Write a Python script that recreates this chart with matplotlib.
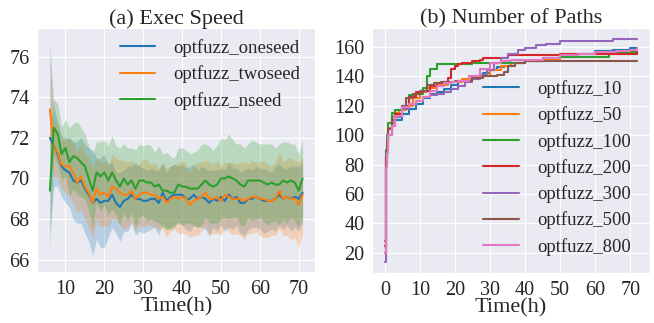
import matplotlib
matplotlib.use("Agg")
import matplotlib.pyplot as plt
import seaborn as sns
import numpy as np

sns.set_style("darkgrid")
plt.rcParams["font.family"] = ["Liberation Serif", "DejaVu Serif"]

# (a) exec speed, hours 6..71
hours = list(range(6, 72))

oneseed = [72.0, 71.6, 71.2, 70.6, 70.4, 70.3, 69.9, 69.8, 69.9, 69.5, 69.2, 68.8, 69.0, 68.8, 68.9, 68.9,
           69.2, 68.8, 68.6, 68.9, 69.0, 69.2, 69.0, 69.0, 68.9, 68.9, 69.0, 69.0, 68.8, 69.3, 68.9, 69.1,
           69.2, 69.2, 69.2, 69.0, 69.0, 69.2, 69.0, 69.1, 69.0, 68.8, 69.0, 68.9, 69.1, 68.9, 69.2, 69.0,
           69.1, 68.8, 68.8, 69.0, 69.0, 69.1, 69.0, 68.9, 68.9, 68.9, 69.0, 69.2, 69.0, 69.1, 69.0, 69.1,
           69.0, 69.3]
twoseed = [73.4, 71.5, 71.3, 70.7, 70.6, 70.6, 70.3, 69.8, 70.1, 69.6, 69.3, 68.8, 69.5, 69.2, 69.3, 69.1,
           69.6, 69.5, 69.3, 69.2, 69.2, 69.4, 69.0, 69.2, 69.3, 69.3, 69.2, 69.2, 69.0, 69.1, 68.8, 69.0,
           69.1, 69.0, 69.1, 69.0, 68.7, 68.9, 69.0, 69.1, 69.3, 69.0, 69.0, 69.1, 68.9, 69.2, 69.1, 69.0,
           69.0, 69.0, 68.9, 69.0, 69.1, 69.1, 69.0, 69.0, 68.9, 68.9, 69.0, 69.4, 69.0, 69.1, 69.0, 69.0,
           68.7, 69.2]
nseed = [69.4, 72.5, 72.2, 71.2, 71.5, 70.8, 71.1, 71.0, 70.8, 70.6, 70.0, 69.4, 70.3, 70.1, 70.3, 69.9,
         70.3, 69.9, 69.6, 70.0, 69.7, 69.9, 69.5, 69.9, 69.9, 69.8, 69.8, 69.6, 69.7, 69.4, 69.4, 69.3,
         69.3, 69.7, 69.6, 69.6, 69.5, 69.5, 69.5, 69.7, 69.9, 69.7, 69.6, 69.7, 70.0, 70.0, 70.1, 70.0,
         69.9, 69.7, 69.6, 69.9, 69.9, 69.9, 69.9, 69.8, 69.7, 69.8, 69.7, 69.7, 69.9, 69.8, 69.9, 69.8,
         69.4, 70.0]

# spread of the shaded bands
oneseed_sd = [4.6, 2.0, 1.6, 1.5, 1.6, 1.7, 1.9, 2.0, 2.1, 2.2, 2.3, 2.6, 2.0, 2.2, 2.3, 1.8,
              1.6, 1.5, 1.7, 1.5, 1.6, 1.4, 1.8, 1.6, 1.6, 1.5, 1.5, 1.4, 1.6, 1.5, 1.4, 1.5,
              1.5, 1.4, 1.5, 1.5, 1.6, 1.5, 1.4, 1.5, 1.5, 1.6, 1.4, 1.5, 1.4, 1.5, 1.6, 1.5,
              1.4, 1.5, 1.6, 1.5, 1.4, 1.5, 1.5, 1.6, 1.5, 1.4, 1.6, 1.5, 1.5, 1.4, 1.6, 1.5,
              1.6, 1.5]
twoseed_sd = [2.6, 1.4, 1.3, 1.2, 1.3, 1.4, 1.5, 1.5, 1.6, 1.6, 1.7, 1.7, 1.5, 1.6, 1.6, 1.5,
              1.6, 1.5, 1.6, 1.7, 1.6, 1.5, 1.6, 1.5, 1.7, 1.6, 1.5, 1.6, 1.5, 1.6, 1.7, 1.6,
              1.6, 1.7, 1.8, 1.7, 1.6, 1.7, 1.8, 1.7, 1.6, 1.8, 1.7, 1.8, 1.7, 1.6, 1.7, 1.8,
              1.7, 1.8, 1.9, 1.7, 1.8, 1.7, 1.8, 1.9, 1.8, 1.7, 1.8, 1.9, 1.8, 1.9, 2.0, 1.9,
              2.1, 1.9]
nseed_sd = [3.0, 1.4, 1.5, 1.3, 1.4, 1.7, 1.6, 1.8, 1.7, 1.6, 1.6, 1.8, 1.5, 1.7, 1.6, 1.7,
            1.8, 1.7, 1.9, 1.7, 1.8, 1.6, 1.9, 1.8, 1.7, 1.9, 1.8, 1.7, 1.9, 1.8, 1.9, 1.8,
            1.7, 1.8, 1.9, 1.8, 1.7, 1.8, 1.9, 2.0, 1.8, 1.9, 1.8, 1.9, 2.0, 1.9, 2.1, 1.9,
            1.8, 2.0, 1.9, 1.8, 2.0, 1.9, 1.8, 1.9, 2.0, 1.9, 1.8, 2.0, 1.9, 2.0, 1.8, 1.9,
            1.8, 1.9]

# (b) number of paths, step curves (time in hours, paths)
p10_t = [0, 0.3, 0.6, 1, 2, 3, 5, 7, 9, 11, 13, 15, 17, 19, 21, 23, 25, 28, 30, 32, 34, 36, 40, 45, 50, 55, 60, 65, 70, 72]
p10_v = [20, 80, 92, 100, 106, 110, 114, 118, 121, 125, 128, 129, 131, 134, 137, 138, 140, 142, 144, 146, 147, 149, 150, 152, 154, 155, 157, 158, 159, 159]
p50_t = [0, 0.3, 0.6, 1, 2, 3, 4, 6, 8, 10, 12, 15, 18, 22, 26, 30, 33, 36, 40, 45, 50, 55, 72]
p50_v = [20, 85, 95, 105, 112, 115, 117, 120, 125, 129, 132, 134, 136, 138, 140, 144, 147, 149, 150, 151, 153, 155, 155]
p100_t = [0, 0.3, 0.6, 1, 2, 3, 5, 7, 9, 11, 12, 13, 15, 20, 25, 35, 40, 45, 50, 60, 64, 72]
p100_v = [25, 90, 100, 108, 115, 117, 120, 127, 128, 132, 140, 145, 148, 148, 149, 149, 150, 152, 153, 153, 156, 156]
p200_t = [0, 0.3, 0.6, 1, 2, 3, 5, 7, 9, 11, 13, 15, 17, 18, 19, 20, 21, 22, 25, 27, 28, 32, 35, 50, 60, 72]
p200_v = [25, 85, 95, 104, 110, 114, 120, 126, 129, 130, 133, 135, 136, 139, 145, 147, 148, 149, 150, 151, 152, 152, 154, 155, 155, 156]
p300_t = [0, 0.3, 0.6, 1, 2, 3, 5, 7, 9, 11, 13, 15, 17, 19, 21, 23, 25, 27, 29, 31, 33, 35, 38, 40, 43, 46, 50, 60, 65, 72]
p300_v = [14, 80, 90, 100, 108, 112, 118, 121, 123, 126, 127, 128, 129, 131, 133, 136, 138, 141, 144, 149, 152, 155, 158, 159, 161, 162, 164, 164, 165, 165]
p500_t = [0, 0.3, 0.6, 1, 2, 3, 5, 6, 8, 10, 12, 14, 16, 20, 25, 28, 32, 34, 35, 37, 40, 44, 72]
p500_v = [28, 85, 95, 104, 110, 113, 120, 125, 128, 130, 134, 135, 136, 137, 139, 140, 141, 143, 147, 149, 150, 150, 150]
p800_t = [0, 0.3, 0.6, 1, 2, 3, 5, 7, 9, 11, 13, 15, 17, 19, 21, 24, 27, 30, 33, 36, 40, 45, 50, 55, 60, 66, 70, 72]
p800_v = [20, 78, 88, 100, 106, 113, 119, 121, 123, 126, 130, 133, 135, 136, 137, 140, 145, 149, 150, 151, 151, 152, 154, 155, 156, 157, 158, 159]

fig = plt.figure(figsize=(6.54, 3.23), dpi=100)
ax1 = fig.add_axes([0.057, 0.158, 0.425, 0.755])
ax2 = fig.add_axes([0.569, 0.155, 0.425, 0.758])

leg_kw = dict(fontsize=13.5, frameon=False, handlelength=1.9, handletextpad=0.95,
              labelspacing=0.45, borderpad=0, borderaxespad=0)

series_a = [("optfuzz_oneseed", oneseed, oneseed_sd),
            ("optfuzz_twoseed", twoseed, twoseed_sd),
            ("optfuzz_nseed", nseed, nseed_sd)]
for i, (name, m, sd) in enumerate(series_a):
    m = np.array(m)
    sd = np.array(sd)
    ax1.plot(hours, m, color=f"C{i}", lw=1.5, label=name)
    ax1.fill_between(hours, m - sd, m + sd, color=f"C{i}", alpha=0.25, lw=0)
ax1.set_yticks([66, 68, 70, 72, 74, 76])
ax1.set_xticks([10, 20, 30, 40, 50, 60, 70])
ax1.set_ylim(65.4, 77.4)
ax1.set_title("(a) Exec Speed", fontsize=16, pad=3)
ax1.set_xlabel("Time(h)", fontsize=16, labelpad=-1)
ax1.tick_params(labelsize=14.5, pad=2)
ax1.legend(loc="upper right", bbox_to_anchor=(0.945, 0.955), **leg_kw)

series_b = [("optfuzz_10", p10_t, p10_v), ("optfuzz_50", p50_t, p50_v),
            ("optfuzz_100", p100_t, p100_v), ("optfuzz_200", p200_t, p200_v),
            ("optfuzz_300", p300_t, p300_v), ("optfuzz_500", p500_t, p500_v),
            ("optfuzz_800", p800_t, p800_v)]
for i, (name, t, v) in enumerate(series_b):
    ax2.step(t, v, where="post", color=f"C{i}", lw=1.5, label=name)
ax2.set_yticks([20, 40, 60, 80, 100, 120, 140, 160])
ax2.set_xticks([0, 10, 20, 30, 40, 50, 60, 70])
ax2.set_title("(b) Number of Paths", fontsize=16, pad=3)
ax2.set_xlabel("Time(h)", fontsize=16, labelpad=-1)
ax2.tick_params(labelsize=14.5, pad=2)
ax2.legend(loc="lower right", bbox_to_anchor=(0.93, 0.07), **leg_kw)

fig.savefig("out.png", dpi=100)
